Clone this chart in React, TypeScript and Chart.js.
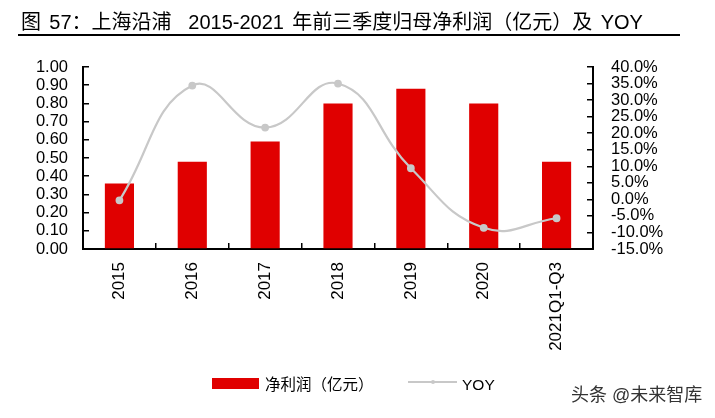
import React, { useEffect, useRef } from "react";
import { Chart, registerables } from "chart.js";

Chart.register(...registerables);

const categories = ["2015", "2016", "2017", "2018", "2019", "2020", "2021Q1-Q3"];
const netProfit = [0.36, 0.48, 0.59, 0.8, 0.88, 0.8, 0.48];
const yoyPct = [-0.3, 34.4, 21.7, 35.0, 9.4, -8.6, -5.7];

const titleText = "图 57：上海沿浦  2015-2021 年前三季度归母净利润（亿元）及 YOY";
const barLabel = "净利润（亿元）";
const lineLabel = "YOY";
const watermark = "头条 @未来智库";

const RED = "#E00000";
const GRAY = "#C8C8C8";
const FONT = '"Liberation Sans", Arial, "Noto Sans CJK SC", sans-serif';

export default function App() {
  const ref = useRef<HTMLCanvasElement | null>(null);

  useEffect(() => {
    if (!ref.current) return;
    const chart = new Chart(ref.current, {
      type: "bar",
      data: {
        labels: categories,
        datasets: [
          {
            type: "line",
            label: lineLabel,
            data: yoyPct,
            yAxisID: "y2",
            borderColor: GRAY,
            backgroundColor: GRAY,
            borderWidth: 2.2,
            pointRadius: 2.8,
            pointBackgroundColor: GRAY,
            pointBorderColor: GRAY,
            tension: 0.45,
            order: 0,
          },
          {
            type: "bar",
            label: barLabel,
            data: netProfit,
            yAxisID: "y",
            backgroundColor: RED,
            borderWidth: 0,
            barPercentage: 0.4,
            categoryPercentage: 1,
            order: 1,
          },
        ],
      },
      options: {
        responsive: false,
        animation: false,
        layout: { padding: { top: 67, left: 0, right: 0, bottom: 0 } },
        plugins: {
          legend: { display: false },
          title: { display: false },
          tooltip: { enabled: false },
        },
        scales: {
          x: {
            offset: true,
            grid: {
              offset: true,
              drawOnChartArea: false,
              drawTicks: true,
              tickLength: -6,
              color: "#000",
              lineWidth: 1.5,
            },
            border: { display: true, color: "#000", width: 2 },
            ticks: {
              autoSkip: false,
              minRotation: 90,
              maxRotation: 90,
              padding: 19,
              color: "#000",
              font: { family: FONT, size: 17 },
            },
            afterFit: (s: any) => {
              s.height = 169;
            },
          },
          y: {
            position: "left",
            min: 0,
            max: 1,
            grid: {
              drawOnChartArea: false,
              drawTicks: true,
              tickLength: -6,
              color: "#000",
              lineWidth: 1.5,
            },
            border: { display: true, color: "#000", width: 2 },
            ticks: {
              autoSkip: false,
              stepSize: 0.1,
              padding: 21,
              color: "#000",
              font: { family: FONT, size: 16.5 },
              callback: (v: any) => Number(v).toFixed(2),
            },
            afterFit: (s: any) => {
              s.width = 83;
            },
          },
          y2: {
            position: "right",
            min: -15,
            max: 40,
            grid: {
              drawOnChartArea: false,
              drawTicks: true,
              tickLength: -6,
              color: "#000",
              lineWidth: 1.5,
            },
            border: { display: true, color: "#000", width: 2 },
            ticks: {
              autoSkip: false,
              stepSize: 5,
              padding: 24,
              color: "#000",
              font: { family: FONT, size: 16.5 },
              callback: (v: any) => Number(v).toFixed(1) + "%",
            },
            afterFit: (s: any) => {
              s.width = 122;
            },
          },
        },
      },
    });
    return () => chart.destroy();
  }, []);

  return (
    <div style={{ position: "absolute", left: 0, top: 0, width: 715, height: 418, background: "#fff", fontFamily: FONT }}>
      <canvas ref={ref} width={715} height={418} style={{ position: "absolute", left: 0, top: 0 }} />
      <div
        style={{
          position: "absolute",
          left: 18,
          top: 10,
          width: 659,
          height: 24,
          borderBottom: "2px solid #000",
          fontSize: 20,
          lineHeight: "24px",
          color: "#000",
          whiteSpace: "pre",
          wordSpacing: "2.8px",
          paddingLeft: 3,
          boxSizing: "content-box",
        }}
      >
        {titleText}
      </div>
      <div style={{ position: "absolute", left: 212, top: 378, width: 47, height: 11, background: RED }} />
      <div style={{ position: "absolute", left: 265, top: 374, fontSize: 15.5, lineHeight: "22px", color: "#000", whiteSpace: "nowrap" }}>
        {barLabel}
      </div>
      <div style={{ position: "absolute", left: 408, top: 381, width: 49, height: 2, background: GRAY }} />
      <div style={{ position: "absolute", left: 431, top: 380, width: 4, height: 4, borderRadius: 2, background: GRAY }} />
      <div style={{ position: "absolute", left: 462, top: 374, fontSize: 15.5, lineHeight: "22px", color: "#000", whiteSpace: "nowrap" }}>
        {lineLabel}
      </div>
      <div style={{ position: "absolute", left: 571, top: 384, fontSize: 18, lineHeight: "22px", color: "#333", whiteSpace: "nowrap" }}>
        {watermark}
      </div>
    </div>
  );
}
